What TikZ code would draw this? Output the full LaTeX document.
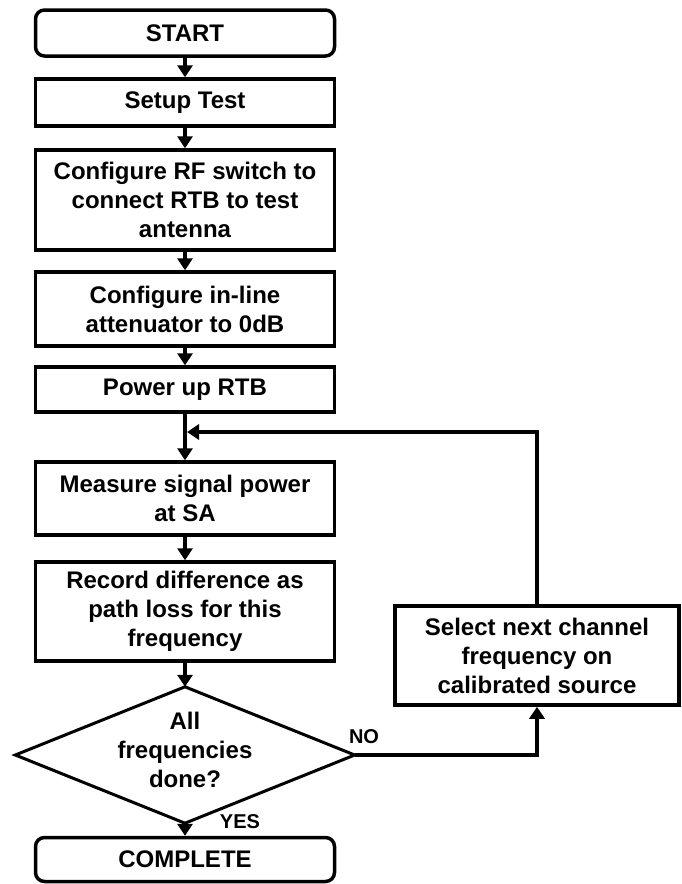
\documentclass[tikz,border=0pt]{standalone}
\usepackage{fontspec}
\setmainfont{Liberation Sans}
\usetikzlibrary{arrows.meta}
\begin{document}
\begin{tikzpicture}[x=1pt,y=-1pt,
  every node/.style={font=\fontsize{24}{29}\selectfont\bfseries, align=center, inner sep=0pt},
  stepbox/.style={draw, line width=3.5pt, minimum width=299pt},
  termbox/.style={stepbox, rounded corners=9pt},
  decbox/.style={minimum width=339pt, minimum height=136pt},
  flow/.style={line width=3.5pt, -{Triangle[length=12pt,width=15pt]}},
  lbl/.style={font=\fontsize{20}{22}\selectfont\bfseries}]
\useasboundingbox (0,0) rectangle (681,884);

\node[termbox, minimum height=46pt] (start) at (185,33) {START};
\node[stepbox, minimum height=47pt] (setup) at (185,102.5) {Setup Test};
\node[stepbox, minimum height=100pt] (rf) at (185,200) {Configure RF switch to\\connect RTB to test\\antenna};
\node[stepbox, minimum height=74pt] (att) at (185,309) {Configure in-line\\attenuator to 0dB};
\node[stepbox, minimum height=45pt] (power) at (185,389.5) {Power up RTB};
\node[stepbox, minimum height=73pt] (meas) at (185,498.5) {Measure signal power\\at SA};
\node[stepbox, minimum height=99pt] (rec) at (185,611.5) {Record difference as\\path loss for this\\frequency};
% decision: outline drawn through the anchors of an invisible frame node
\node[decbox] (dec) at (185,755) {};
\draw[line width=3pt, line join=miter]
  (dec.north) -- (dec.east) -- (dec.south) -- (dec.west) -- cycle;
\node (dectext) at (185,750) {All\\frequencies\\done?};
\node[termbox, minimum height=44pt] (done) at (185,859.5) {COMPLETE};
\node[stepbox, minimum width=284pt, minimum height=99pt] (sel) at (537,655.5) {Select next channel\\frequency on\\calibrated source};

\coordinate (join) at (187,432);

\draw[flow] (start) -- (setup);
\draw[flow] (setup) -- (rf);
\draw[flow] (rf) -- (att);
\draw[flow] (att) -- (power);
\draw[flow] (power) -- (meas);
\draw[flow] (meas) -- (rec);
\draw[flow] (rec) -- (dec.north);
\draw[flow] (dec.south) -- (done);
\draw[flow] (dec.east) -| (sel.south);
\draw[flow] (sel.north) |- (join);

\node[lbl] (no) at (364,737) {NO};
\node[lbl] (yes) at (240,822) {YES};
\end{tikzpicture}
\end{document}
